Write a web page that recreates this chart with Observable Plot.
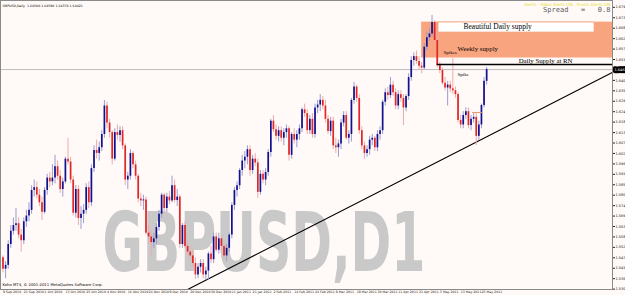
<!DOCTYPE html>
<html>
<head>
<meta charset="utf-8">
<script src="https://cdn.jsdelivr.net/npm/d3@7"></script>
<script src="https://cdn.jsdelivr.net/npm/@observablehq/plot@0.6"></script>
<style>
  html, body { margin: 0; padding: 0; background: #fffaf7; }
  svg { display: block; }
</style>
</head>
<body>
<script>
// ---- Daily OHLC, GBPUSD (9 Sep 2010 .. 27 May 2011), one entry per trading day ----
const opens = [
1.5470,1.5410,1.5430,1.5540,1.5610,1.5640,1.5650,1.5590,1.5560,1.5660,
1.5690,1.5720,1.5825,1.5840,1.5800,1.5760,1.5710,1.5825,1.5890,1.5870,
1.5890,1.5950,1.5900,1.5830,1.5870,1.5990,1.5975,1.5880,1.5705,1.5830,
1.5677,1.5700,1.5720,1.5840,1.5760,1.5940,1.6036,1.6020,1.6050,1.6120,
1.6270,1.6180,1.6130,1.5990,1.6130,1.6115,1.6140,1.6060,1.5880,1.5900,
1.6020,1.5960,1.5900,1.5780,1.5770,1.5775,1.5600,1.5580,1.5550,1.5570,
1.5630,1.5700,1.5800,1.5730,1.5790,1.5770,1.5850,1.5772,1.5790,1.5540,
1.5640,1.5530,1.5500,1.5480,1.5440,1.5380,1.5420,1.5440,1.5380,1.5400,
1.5490,1.5460,1.5580,1.5510,1.5570,1.5530,1.5480,1.5520,1.5590,1.5746,
1.5825,1.5850,1.5930,1.5980,1.6000,1.6040,1.5930,1.5990,1.5970,1.5815,
1.5910,1.5880,1.5920,1.6025,1.6190,1.6145,1.6110,1.6140,1.6100,1.6130,
1.6150,1.6010,1.6120,1.6090,1.6120,1.6150,1.6250,1.6230,1.6140,1.6200,
1.6120,1.6260,1.6275,1.6300,1.6270,1.6200,1.6135,1.6190,1.6060,1.6050,
1.6070,1.6180,1.6220,1.6100,1.6120,1.6299,1.6370,1.6310,1.6140,1.6060,
1.6020,1.6040,1.6090,1.6100,1.6050,1.6120,1.6140,1.6290,1.6340,1.6325,
1.6380,1.6340,1.6270,1.6330,1.6310,1.6260,1.6320,1.6420,1.6510,1.6530,
1.6505,1.6480,1.6470,1.6580,1.6630,1.6650,1.6710,1.6615,1.6483,1.6457,
1.6390,1.6365,1.6380,1.6360,1.6350,1.6330,1.6194,1.6170,1.6220,1.6240,
1.6167,1.6200,1.6210,1.6110,1.6170,1.6273,1.6400];
const highs = [
1.5480,1.5450,1.5560,1.5640,1.5680,1.5730,1.5680,1.5620,1.5680,1.5720,
1.5760,1.5850,1.5880,1.5870,1.5830,1.5790,1.5840,1.5910,1.5920,1.5960,
1.6010,1.5980,1.5930,1.5890,1.6000,1.6100,1.6000,1.5900,1.5850,1.5850,
1.5740,1.5750,1.5860,1.5870,1.5960,1.6060,1.6090,1.6080,1.6140,1.6299,
1.6290,1.6200,1.6140,1.6150,1.6170,1.6160,1.6160,1.6070,1.5920,1.6040,
1.6030,1.5980,1.5910,1.5810,1.5800,1.5790,1.5640,1.5610,1.5600,1.5650,
1.5720,1.5810,1.5810,1.5810,1.5820,1.5900,1.5880,1.5830,1.5800,1.5650,
1.5660,1.5560,1.5530,1.5510,1.5470,1.5440,1.5460,1.5460,1.5420,1.5500,
1.5530,1.5600,1.5600,1.5600,1.5590,1.5540,1.5540,1.5600,1.5760,1.5840,
1.5870,1.5940,1.6010,1.6030,1.6060,1.6060,1.6010,1.6020,1.5990,1.5930,
1.5930,1.5940,1.6040,1.6200,1.6220,1.6170,1.6160,1.6160,1.6150,1.6170,
1.6160,1.6130,1.6150,1.6140,1.6170,1.6260,1.6280,1.6250,1.6220,1.6230,
1.6280,1.6300,1.6330,1.6320,1.6300,1.6220,1.6210,1.6210,1.6100,1.6090,
1.6200,1.6240,1.6240,1.6140,1.6310,1.6394,1.6380,1.6330,1.6160,1.6080,
1.6060,1.6110,1.6120,1.6110,1.6140,1.6160,1.6300,1.6360,1.6370,1.6420,
1.6400,1.6360,1.6350,1.6350,1.6330,1.6330,1.6440,1.6530,1.6550,1.6560,
1.6530,1.6500,1.6600,1.6660,1.6680,1.6747,1.6720,1.6660,1.6500,1.6470,
1.6420,1.6400,1.6400,1.6520,1.6370,1.6340,1.6220,1.6240,1.6260,1.6260,
1.6220,1.6230,1.6230,1.6190,1.6280,1.6420,1.6473];
const lows = [
1.5390,1.5360,1.5410,1.5520,1.5590,1.5610,1.5570,1.5500,1.5540,1.5630,
1.5660,1.5700,1.5790,1.5780,1.5740,1.5667,1.5700,1.5800,1.5840,1.5850,
1.5860,1.5880,1.5810,1.5790,1.5860,1.5960,1.5860,1.5690,1.5680,1.5640,
1.5620,1.5650,1.5700,1.5730,1.5740,1.5920,1.5990,1.5980,1.6030,1.6100,
1.6150,1.6100,1.5960,1.5980,1.6090,1.6080,1.6040,1.5850,1.5830,1.5880,
1.5940,1.5880,1.5760,1.5740,1.5720,1.5590,1.5540,1.5482,1.5520,1.5540,
1.5610,1.5680,1.5700,1.5710,1.5750,1.5760,1.5760,1.5740,1.5520,1.5520,
1.5520,1.5480,1.5460,1.5420,1.5355,1.5360,1.5390,1.5360,1.5350,1.5350,
1.5440,1.5440,1.5500,1.5490,1.5500,1.5460,1.5450,1.5500,1.5570,1.5720,
1.5790,1.5830,1.5900,1.5940,1.5960,1.5900,1.5910,1.5950,1.5783,1.5800,
1.5860,1.5850,1.5900,1.6000,1.6130,1.6090,1.6080,1.6080,1.6060,1.6100,
1.5980,1.5990,1.6070,1.6050,1.6090,1.6130,1.6210,1.6120,1.6120,1.6100,
1.6100,1.6230,1.6240,1.6250,1.6180,1.6120,1.6110,1.6040,1.6020,1.6000,
1.6040,1.6160,1.6090,1.6070,1.6080,1.6280,1.6290,1.6120,1.6040,1.5990,
1.6000,1.6010,1.6060,1.6030,1.6030,1.6090,1.6120,1.6270,1.6300,1.6310,
1.6320,1.6250,1.6250,1.6290,1.6167,1.6240,1.6300,1.6400,1.6480,1.6490,
1.6460,1.6440,1.6460,1.6560,1.6610,1.6630,1.6600,1.6470,1.6440,1.6380,
1.6350,1.6270,1.6340,1.6330,1.6310,1.6180,1.6150,1.6150,1.6200,1.6150,
1.6140,1.6180,1.6062,1.6090,1.6150,1.6260,1.6380];
const closes = [
1.5410,1.5430,1.5540,1.5610,1.5640,1.5650,1.5590,1.5560,1.5660,1.5690,
1.5720,1.5825,1.5840,1.5800,1.5760,1.5710,1.5825,1.5890,1.5870,1.5890,
1.5950,1.5900,1.5830,1.5870,1.5990,1.5975,1.5880,1.5705,1.5830,1.5677,
1.5700,1.5720,1.5840,1.5760,1.5940,1.6036,1.6020,1.6050,1.6120,1.6270,
1.6180,1.6130,1.5990,1.6130,1.6115,1.6140,1.6060,1.5880,1.5900,1.6020,
1.5960,1.5900,1.5780,1.5770,1.5775,1.5600,1.5580,1.5550,1.5570,1.5630,
1.5700,1.5800,1.5730,1.5790,1.5770,1.5850,1.5772,1.5790,1.5540,1.5640,
1.5530,1.5500,1.5480,1.5440,1.5380,1.5420,1.5440,1.5380,1.5400,1.5490,
1.5460,1.5580,1.5510,1.5570,1.5530,1.5480,1.5520,1.5590,1.5746,1.5825,
1.5850,1.5930,1.5980,1.6000,1.6040,1.5930,1.5990,1.5970,1.5815,1.5910,
1.5880,1.5920,1.6025,1.6190,1.6145,1.6110,1.6140,1.6100,1.6130,1.6150,
1.6010,1.6120,1.6090,1.6120,1.6150,1.6250,1.6230,1.6140,1.6200,1.6120,
1.6260,1.6275,1.6300,1.6270,1.6200,1.6135,1.6190,1.6060,1.6050,1.6070,
1.6180,1.6220,1.6100,1.6120,1.6299,1.6370,1.6310,1.6140,1.6060,1.6020,
1.6040,1.6090,1.6100,1.6050,1.6120,1.6140,1.6290,1.6340,1.6325,1.6380,
1.6340,1.6270,1.6330,1.6310,1.6260,1.6320,1.6420,1.6510,1.6530,1.6505,
1.6480,1.6470,1.6580,1.6630,1.6650,1.6710,1.6615,1.6483,1.6457,1.6390,
1.6365,1.6380,1.6360,1.6350,1.6330,1.6194,1.6170,1.6220,1.6240,1.6167,
1.6200,1.6210,1.6110,1.6170,1.6273,1.6400,1.6462];

// ---- axis labels ----
const dateTickIndex = [0,8,16,24,32,40,48,56,64,72,80,88,96,104,112,120,128,136,144,152,160,168,176,184];
const dateTickLabels = ["9 Sep 2010","21 Sep 2010","1 Oct 2010","13 Oct 2010","25 Oct 2010","4 Nov 2010",
  "16 Nov 2010","26 Nov 2010","8 Dec 2010","20 Dec 2010","30 Dec 2010","11 Jan 2011","21 Jan 2011",
  "2 Feb 2011","14 Feb 2011","24 Feb 2011","8 Mar 2011","18 Mar 2011","30 Mar 2011","11 Apr 2011",
  "21 Apr 2011","3 May 2011","13 May 2011","25 May 2011"];
const priceTicks = [1.6790,1.6735,1.6680,1.6625,1.6570,1.6515,1.6405,1.6350,1.6295,1.6240,1.6185,
  1.6130,1.6075,1.6020,1.5965,1.5910,1.5855,1.5800,1.5745,1.5690,1.5635,1.5580,1.5525,1.5470,
  1.5415,1.5360,1.5305];

// ---- drawn objects (bar index / price) ----
const weeklyZone = [{x1: 161, x2: 234.4, y1: 1.6523, y2: 1.6712}];
const dailyZone = [{x1: 167.5, x2: 227.5, y1: 1.6657, y2: 1.6710}];
const roundNumberLine = [{x1: 167, x2: 234.4, y: 1.6489}];
const smallLevel = [{x1: 180.6, x2: 184.4, y: 1.6236}];
const trendLine = [{i: 71, p: 1.5303}, {i: 234.4, p: 1.6447}];
const notes = [
  {text: "Beautiful Daily supply", i: 177.1, p: 1.6686, size: 7.5},
  {text: "Weekly supply", i: 174.8, p: 1.6573, size: 6.8},
  {text: "Spikes", i: 169.4, p: 1.6552, size: 5},
  {text: "Daily Supply at RN", i: 198.3, p: 1.6506, size: 6.8},
  {text: "Spike", i: 174.8, p: 1.6439, size: 5}
];
const headerText = "GBPUSD,Daily  1.64500 1.64590 1.64370 1.64421";
const spreadText = "Spread   =   0.8";
const alertText = "Alerts : Fibbo Alerts ON , Pivots Alerts ON";
const copyrightText = "Koho MT4, \u00a9 2001-2011 MetaQuotes Software Corp.";
const watermark = "GBPUSD,D1";

const candles = opens.map((o, i) => ({i, o, h: highs[i], l: lows[i], c: closes[i], up: closes[i] >= o}));
const lastClose = closes[closes.length - 1];

const svg = Plot.plot({
  width: 625,
  height: 295,
  marginLeft: 0,
  marginRight: 13,
  marginTop: 0,
  marginBottom: 6,
  style: {background: "#fffaf7", fontFamily: "DejaVu Sans", fontSize: "3.5px", color: "#222"},
  x: {domain: [-0.96, 234.4], axis: null},
  y: {domain: [1.5303, 1.6826], axis: "right", ticks: priceTicks, tickFormat: d => d.toFixed(5), tickSize: 2, tickPadding: 1, label: null},
  marks: [
    Plot.text([watermark], {frameAnchor: "bottom-left", dx: 102, dy: -19, textAnchor: "start",
      fontSize: 82, fontWeight: "bold", fontFamily: "DejaVu Sans", fill: "#c9c9c9"}),
    Plot.ruleY([lastClose], {stroke: "#bdbdbd", strokeWidth: 1}),
    Plot.rect(weeklyZone, {x1: "x1", x2: "x2", y1: "y1", y2: "y2", fill: "#f8a57f"}),
    Plot.rect(dailyZone, {x1: "x1", x2: "x2", y1: "y1", y2: "y2", fill: "#ffffff", stroke: "#f3a47f", strokeWidth: 0.8}),
    Plot.line(trendLine, {x: "i", y: "p", stroke: "#000", strokeWidth: 1.1, clip: true}),
    Plot.ruleX(candles, {x: "i", y1: "l", y2: "h", stroke: d => d.up ? "#9a9ad2" : "#efa9a9", strokeWidth: 1}),
    Plot.ruleX(candles, {x: "i", y1: "o", y2: "c", stroke: d => d.up ? "#11118f" : "#e02626", strokeWidth: 1.7}),
    Plot.ruleY(roundNumberLine, {x1: "x1", x2: "x2", y: "y", stroke: "#000", strokeWidth: 1.4}),
    Plot.ruleY(smallLevel, {x1: "x1", x2: "x2", y: "y", stroke: "#e8946a", strokeWidth: 1}),
    Plot.text(notes, {x: "i", y: "p", text: "text", fontSize: "size", textAnchor: "start",
      fontFamily: "Liberation Serif", fill: "#000"}),
    Plot.text([headerText], {frameAnchor: "top-left", dx: 2, dy: 4, textAnchor: "start", fontSize: 3.2, fill: "#000"}),
    Plot.text([alertText], {frameAnchor: "top-right", dx: -2, dy: 3, textAnchor: "end", fontSize: 4.2, fill: "#e6dc2a"}),
    Plot.text([spreadText], {frameAnchor: "top-right", dx: -2, dy: 7, textAnchor: "end", fontSize: 7,
      fontFamily: "DejaVu Sans Mono", fill: "#5a5a5a"}),
    Plot.text([copyrightText], {frameAnchor: "bottom-left", dx: 2, dy: -3.5, textAnchor: "start", fontSize: 3.8, fill: "#000"}),
    Plot.text(dateTickIndex, {x: d => d, text: (d, k) => dateTickLabels[k], frameAnchor: "bottom", dy: 3.6,
      textAnchor: "start", fontSize: 3.2, fill: "#222"}),
    Plot.text([lastClose], {y: d => d, frameAnchor: "right", dx: 2, textAnchor: "start", text: d => d.toFixed(5),
      fontSize: 3.5, fill: "#fff", stroke: "#000", strokeWidth: 4.5, paintOrder: "stroke"}),
    Plot.frame({stroke: "#8a8a8a", strokeWidth: 1})
  ]
});
document.body.appendChild(svg);

// condense the watermark glyphs horizontally (narrow terminal font), scaling about its left anchor
const wm = Array.from(svg.querySelectorAll("text")).find(t => t.textContent === watermark);
if (wm) {
  const natural = wm.getComputedTextLength();
  const s = natural > 0 ? 323 / natural : 0.58;
  const base = wm.getAttribute("transform") || "";
  wm.setAttribute("transform", (base + ` scale(${s.toFixed(4)},1)`).trim());
}
</script>
</body>
</html>
